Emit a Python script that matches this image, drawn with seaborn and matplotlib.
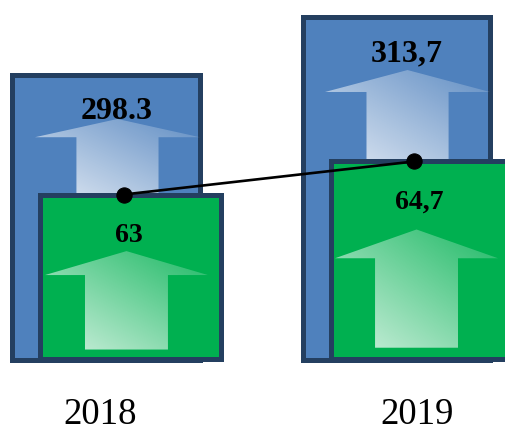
import numpy as np
import matplotlib
matplotlib.use("Agg")
import matplotlib.pyplot as plt
from matplotlib.patches import Polygon
import seaborn as sns

# data
years = ["2018", "2019"]
total = [298.3, 313.7]
total_labels = ["298.3", "313,7"]
part = [63.0, 64.7]
part_labels = ["63", "64,7"]

# styling / layout
BLUE = "#4F81BD"
GREEN = "#00B050"
EDGE = "#243F60"
SERIF = "Liberation Serif"

blue_base, blue_ylim = 222.6, (203.9, 318.35)
green_base, green_ylim = 54.55, (50.87, 73.07)
xlim = (-0.367, 1.374)
green_shift = 0.083
dot_shift = 0.06
year_x = [-0.022, 1.071]


def gradient_arrow(ax, cx, tip, head, foot, head_w, stem_w, alphas, z):
    """block arrow filled with a diagonal white gradient"""
    verts = [(cx, tip), (cx + head_w / 2, head), (cx + stem_w / 2, head),
             (cx + stem_w / 2, foot), (cx - stem_w / 2, foot),
             (cx - stem_w / 2, head), (cx - head_w / 2, head)]
    clip = Polygon(verts, closed=True, transform=ax.transData,
                   facecolor="none", edgecolor="none")
    ax.add_patch(clip)
    u, v = np.meshgrid(np.linspace(0, 1, 120), np.linspace(0, 1, 120))
    t = (u + v) / 2
    img = np.ones((120, 120, 4))
    img[..., 3] = alphas[0] + (alphas[1] - alphas[0]) * t
    im = ax.imshow(img, extent=[cx - head_w / 2, cx + head_w / 2, foot, tip],
                   origin="lower", aspect="auto", interpolation="bilinear", zorder=z)
    im.set_clip_path(clip)


sns.set_style("white")
plt.rcParams["text.color"] = "black"
fig = plt.figure(figsize=(5.05, 4.31), dpi=100)
ax = fig.add_axes([0, 0, 1, 1])
ax2 = ax.twinx()

pos = np.arange(len(years))

# back bars (totals)
sns.barplot(x=pos, y=np.array(total) - blue_base, bottom=blue_base, native_scale=True,
            orient="x", width=0.648, color=BLUE, saturation=1, edgecolor=EDGE,
            linewidth=3.6, errorbar=None, ax=ax, zorder=1)

for x, val, lbl in zip(pos, total, total_labels):
    h = val - blue_base
    gradient_arrow(ax, x + 0.038, val - 0.156 * h, val - 0.22 * h, val - 0.45 * h,
                   0.569, 0.283, (0.85, 0.1), 2)
    ax.annotate(lbl, (x + 0.034, val), xytext=(0, -36), textcoords="offset pixels",
                ha="center", va="center", fontsize=23, fontweight="bold",
                family=SERIF, color="black", zorder=4)

# front bars (parts)
sns.barplot(x=pos + green_shift, y=np.array(part) - green_base, bottom=green_base,
            native_scale=True, orient="x", width=0.621, color=GREEN, saturation=1,
            edgecolor=EDGE, linewidth=3.6, errorbar=None, ax=ax2, zorder=1)

for x, val, lbl in zip(pos + green_shift, part, part_labels):
    h = val - green_base
    gradient_arrow(ax2, x - 0.014, val - 0.345 * h, val - 0.491 * h, green_base + 0.055 * h,
                   0.562, 0.286, (0.82, 0.12), 2)
    ax2.annotate(lbl, (x - 0.006, val), xytext=(0, -40), textcoords="offset pixels",
                 ha="center", va="center", fontsize=20, fontweight="bold",
                 family=SERIF, color="black", zorder=4)

sns.lineplot(x=pos + dot_shift, y=part, color="black", linewidth=1.9, marker="o",
             markersize=11, markeredgecolor="black", ax=ax2, zorder=6)

for x, yr in zip(year_x, years):
    ax.text(x, 0.037, yr, transform=ax.get_xaxis_transform(), ha="center", va="center",
            fontsize=26.5, family=SERIF, color="black")

ax.set_xlim(*xlim)
ax.set_ylim(*blue_ylim)
ax2.set_ylim(*green_ylim)
ax.axis("off")
ax2.axis("off")

fig.savefig("out.png", dpi=100, facecolor="white")
